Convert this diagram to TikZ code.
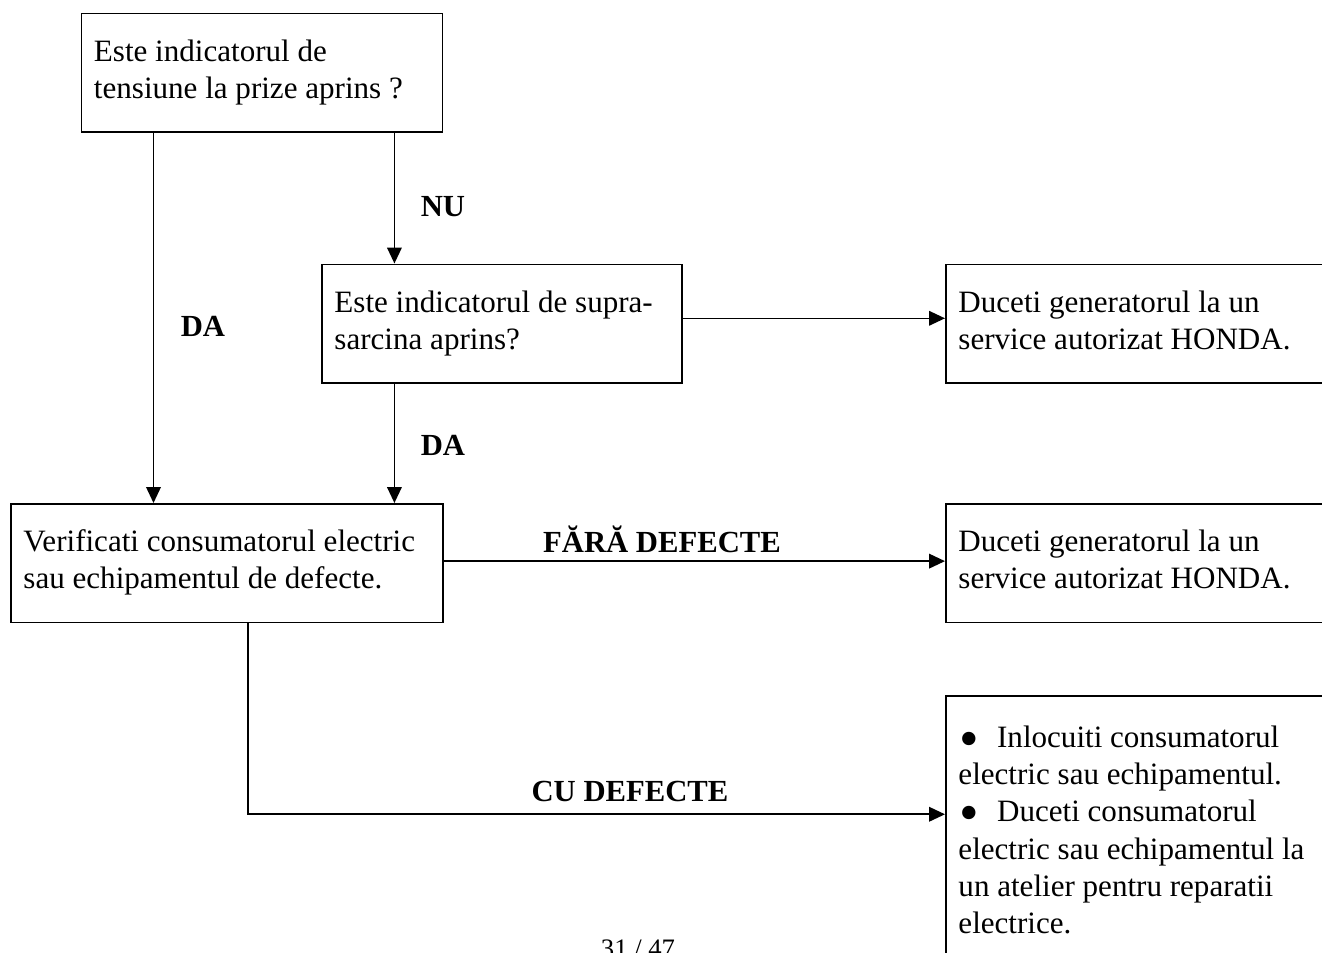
\documentclass[tikz,border=0pt]{standalone}
\usepackage{fontspec}
\setmainfont{Liberation Serif}
\usetikzlibrary{arrows.meta}

\newcommand{\bul}{\makebox[29pt][l]{\hspace{1pt}\raisebox{-0.3em}[0pt][0pt]{\scalebox{1.8}{\textbullet}}}}

\begin{document}
\begin{tikzpicture}[x=0.75pt,y=-0.75pt,
  box/.style={draw=black, line width=1.2pt, anchor=north west, align=flush left,
    inner xsep=9.5pt, inner ysep=0pt, text height=36pt, text depth=53pt,
    font=\fontsize{23.3}{27.8}\selectfont},
  lbl/.style={font=\fontsize{23}{27.6}\selectfont\bfseries, inner sep=0pt, anchor=base},
  arr/.style={line width=1.2pt, -{Triangle[length=12pt,width=11pt]}}]
\useasboundingbox (0,0) rectangle (1322,953);
\clip (0,0) rectangle (1322,953);
% boxes
\node[box, text width=252pt] (q1) at (80.5,12.5) {Este indicatorul de\\tensiune la prize aprins ?};
\node[box, text width=251pt] (q2) at (321,263.5) {Este indicatorul de supra-\\sarcina aprins?};
\node[box, text width=300pt] (svc1) at (945,263.5) {Duceti generatorul la un\\service autorizat HONDA.};
\node[box, text width=305pt] (verif) at (10,503) {Verificati consumatorul electric\\sau echipamentul de defecte.};
\node[box, text width=300pt] (svc2) at (945,503) {Duceti generatorul la un\\service autorizat HONDA.};
\node[box, text width=300pt, text height=39pt, text depth=250pt] (fix) at (945,695)
  {\bul Inlocuiti consumatorul\\electric sau echipamentul.\\
   \bul Duceti consumatorul\\electric sau echipamentul la\\
   un atelier pentru reparatii\\electrice.};
% connectors
\coordinate (daL) at ([xshift=54.75pt]q1.south west);
\coordinate (nuT) at ([xshift=-36.75pt]q1.south east);
\coordinate (cuT) at ([xshift=178.5pt]verif.south west);
\coordinate (bend) at ([yshift=-143.25pt]cuT);
\draw[arr] (daL) -- (daL |- verif.north);
\draw[arr] (nuT) -- (nuT |- q2.north);
\draw[arr] (nuT |- q2.south) -- (nuT |- verif.north);
\draw[arr] ([yshift=4pt]q2.east) -- ([yshift=4pt]q2.east -| svc1.west);
\draw[arr] ([yshift=1.5pt]verif.east) -- ([yshift=1.5pt]verif.east -| svc2.west);
\draw[arr] (cuT) -- (bend) -- (bend -| fix.west);
% labels
\node[lbl] (nu) at (443,216) {NU};
\node[lbl] (da1) at (203,336) {DA};
\node[lbl] (da2) at (443,455) {DA};
\node[lbl] (fara) at (662,552) {FĂRĂ DEFECTE};
\node[lbl] (cu) at (630,801) {CU DEFECTE};
\node[font=\fontsize{20}{24}\selectfont, inner sep=0pt, anchor=base] (pg) at (638,957) {31 / 47};
\end{tikzpicture}
\end{document}
